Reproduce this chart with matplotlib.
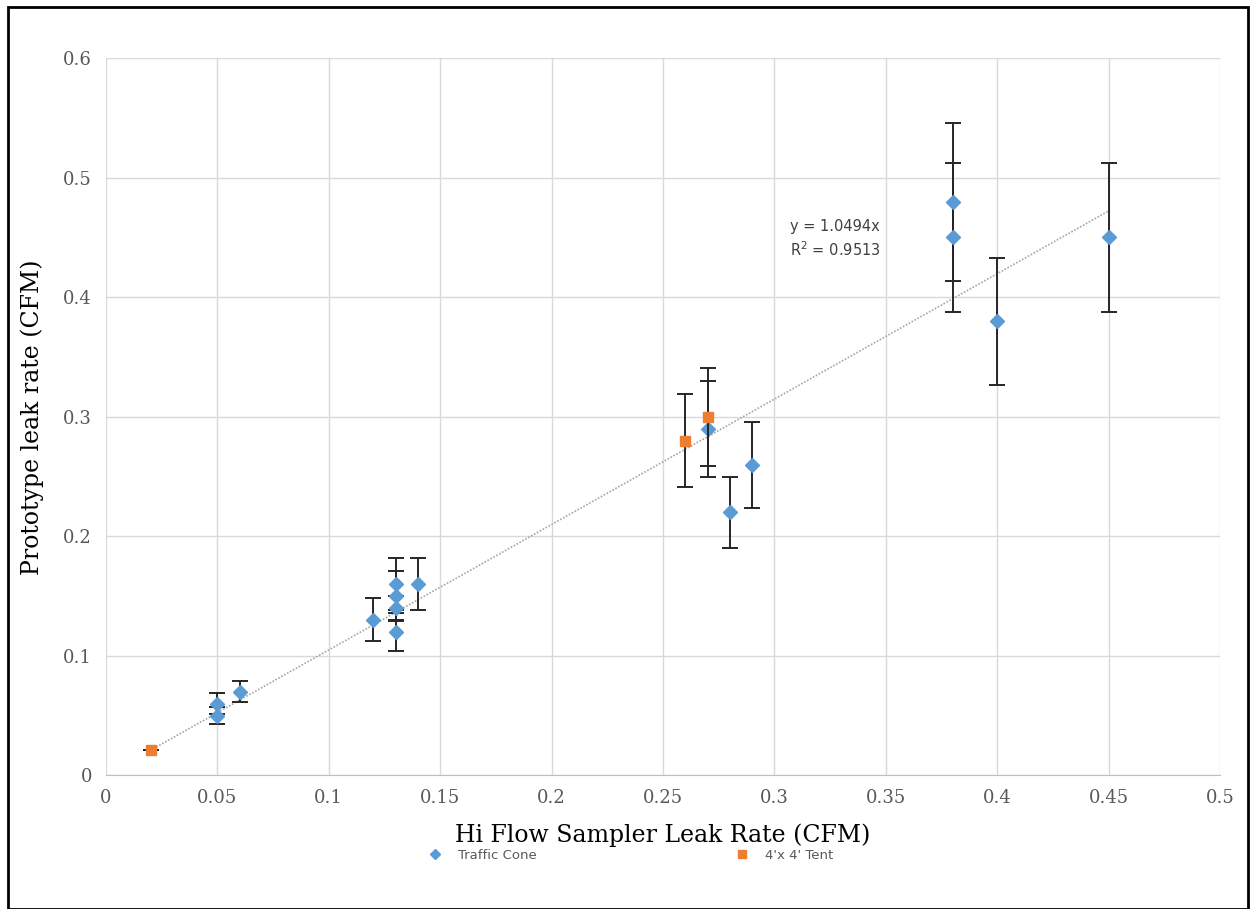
import matplotlib.pyplot as plt
from matplotlib.patches import Rectangle

# Donnees
cone_x = [0.05, 0.05, 0.06, 0.12, 0.13, 0.13, 0.13, 0.13, 0.14, 0.27, 0.28, 0.29, 0.38, 0.38, 0.40, 0.45]
cone_y = [0.06, 0.05, 0.07, 0.13, 0.16, 0.15, 0.14, 0.12, 0.16, 0.29, 0.22, 0.26, 0.48, 0.45, 0.38, 0.45]
cone_err = [0.009, 0.007, 0.009, 0.018, 0.022, 0.021, 0.010, 0.016, 0.022, 0.040, 0.030, 0.036, 0.066, 0.062, 0.053, 0.062]

tent_x = [0.02, 0.26, 0.27]
tent_y = [0.021, 0.28, 0.30]
tent_err = [0.0, 0.039, 0.041]

slope = 1.0494
r2 = 0.9513
trend_x = [0.02, 0.45]

blue = '#5B9BD5'
orange = '#ED7D31'
grey_txt = '#595959'

fig = plt.figure(figsize=(12.54, 9.09), dpi=100)
ax = fig.add_axes([0.0845, 0.147, 0.8885, 0.789])

ax.plot(trend_x, [slope * v for v in trend_x], linestyle=(0, (1, 1)), color='#a6a6a6', linewidth=1.2, zorder=2)

ax.errorbar(cone_x, cone_y, yerr=cone_err, fmt='D', color=blue, markersize=7,
            ecolor='#262626', elinewidth=1.4, capsize=5.5, capthick=1.4, zorder=3)
ax.errorbar(tent_x, tent_y, yerr=tent_err, fmt='s', color=orange, markersize=7,
            ecolor='#262626', elinewidth=1.4, capsize=5.5, capthick=1.4, zorder=4)

ax.set_xlim(0, 0.5)
ax.set_ylim(0, 0.6)
ax.set_xticks([i * 0.05 for i in range(11)])
ax.set_yticks([i * 0.1 for i in range(7)])
ax.set_xticklabels(['0', '0.05', '0.1', '0.15', '0.2', '0.25', '0.3', '0.35', '0.4', '0.45', '0.5'])
ax.set_yticklabels(['0', '0.1', '0.2', '0.3', '0.4', '0.5', '0.6'])
ax.tick_params(length=0, labelsize=13, labelcolor=grey_txt, pad=10)
for lab in ax.get_xticklabels() + ax.get_yticklabels():
    lab.set_family('DejaVu Serif')
ax.grid(True, color='#d9d9d9', linewidth=1)
ax.set_axisbelow(True)
for side in ['top', 'right', 'left']:
    ax.spines[side].set_visible(False)
ax.spines['bottom'].set_color('#bfbfbf')

ax.set_xlabel('Hi Flow Sampler Leak Rate (CFM)', fontsize=17, family='DejaVu Serif', labelpad=12)
ax.set_ylabel('Prototype leak rate (CFM)', fontsize=17, family='DejaVu Serif', labelpad=14)

# Equation de la tendance
ax.text(0.307, 0.432, f'y = {slope}x\nR$^2$ = {r2}', fontsize=10.5, color='#404040',
        family='DejaVu Sans', linespacing=1.4, va='bottom')

# Legende en bas
fig.legend(handles=[
    plt.Line2D([], [], marker='D', color=blue, linestyle='none', markersize=5.5, label='Traffic Cone'),
    plt.Line2D([], [], marker='s', color=orange, linestyle='none', markersize=5.5, label="4'x 4' Tent"),
], loc='center', bbox_to_anchor=(0.502, 0.059), ncol=2, frameon=False, fontsize=9.5,
    columnspacing=14.8, handletextpad=1.0, handlelength=1.5, labelcolor=grey_txt)

fig.patches.append(Rectangle((0.006, 0.0), 0.989, 0.992, transform=fig.transFigure,
                             fill=False, edgecolor='black', linewidth=2))

plt.savefig('out.png', dpi=100)
